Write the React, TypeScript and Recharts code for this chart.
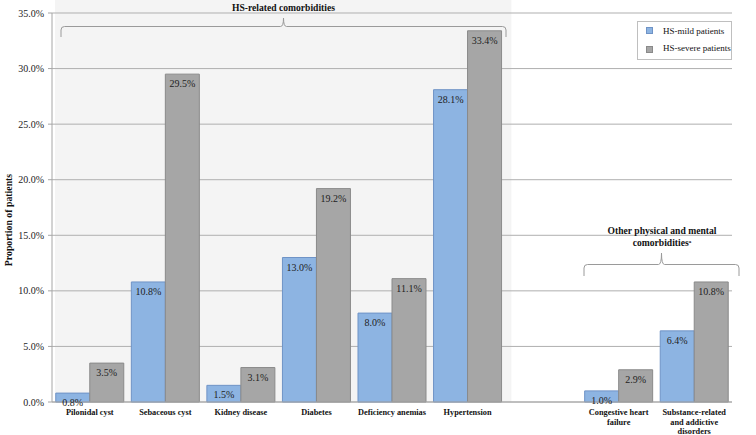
import React from 'react';
import { BarChart, Bar, XAxis, YAxis, CartesianGrid, LabelList, Legend, ReferenceArea } from 'recharts';

const categories = [
  'Pilonidal cyst',
  'Sebaceous cyst',
  'Kidney disease',
  'Diabetes',
  'Deficiency anemias',
  'Hypertension',
  ' ',
  'Congestive heart\nfailure',
  'Substance-related\nand addictive\ndisorders',
];
const mildValues: (number | null)[] = [0.8, 10.8, 1.5, 13.0, 8.0, 28.1, null, 1.0, 6.4];
const severeValues: (number | null)[] = [3.5, 29.5, 3.1, 19.2, 11.1, 33.4, null, 2.9, 10.8];
const yTicks = [0, 5, 10, 15, 20, 25, 30, 35];
const seriesNames = ['HS-mild patients', 'HS-severe patients'];
const seriesColors = ['#8DB4E2', '#A6A6A6'];
const seriesStrokes = ['#6F93C6', '#8A8A8A'];
const groupTitle1 = 'HS-related comorbidities';
const groupTitle2 = ['Other physical and mental', 'comorbidities'];
const yAxisTitle = 'Proportion of patients';

const data = categories.map((c, i) => ({ name: c, mild: mildValues[i], severe: severeValues[i] }));

const W = 756;
const H = 435;
const FONT = '"Liberation Serif", "Times New Roman", serif';

const fmt = (v: any) => (v == null ? '' : `${Number(v).toFixed(1)}%`);

const XTick = (props: any) => {
  const { x, y, payload } = props;
  const lines = String(payload.value).split('\n');
  return (
    <text x={x} y={y} textAnchor="middle" fontFamily={FONT} fontSize={8.3} fontWeight="bold" fill="#111">
      {lines.map((l, i) => (
        <tspan key={i} x={x} dy={i === 0 ? 5 : 9.6}>
          {l}
        </tspan>
      ))}
    </text>
  );
};

const BgShape = (props: any) => {
  const { x, y, width, height } = props;
  return <rect x={x + 3} y={y - 13} width={width + 3} height={height + 13} fill="#F4F4F4" />;
};

const LegendBox = () => (
  <div
    style={{
      position: 'relative',
      width: 95,
      height: 39,
      boxSizing: 'border-box',
      border: '1px solid #BFBFBF',
      background: '#fff',
      fontFamily: FONT,
      fontSize: 9,
      color: '#111',
    }}
  >
    {seriesNames.map((n, i) => (
      <React.Fragment key={n}>
        <div
          style={{
            position: 'absolute',
            left: 8,
            top: 5 + i * 19,
            width: 7,
            height: 7,
            background: seriesColors[i],
            border: `1px solid ${seriesStrokes[i]}`,
            boxSizing: 'border-box',
          }}
        />
        <div style={{ position: 'absolute', left: 25, top: 4 + i * 17, whiteSpace: 'nowrap', lineHeight: '11px' }}>{n}</div>
      </React.Fragment>
    ))}
  </div>
);

const brace = (x1: number, x2: number, yl: number, yb: number, yp: number) => {
  const xc = (x1 + x2) / 2;
  return `M${x1},${yb} L${x1},${yl + 3.5} Q${x1},${yl} ${x1 + 3.5},${yl} L${xc - 3},${yl} Q${xc},${yl} ${xc},${yp} Q${xc},${yl} ${xc + 3},${yl} L${x2 - 3.5},${yl} Q${x2},${yl} ${x2},${yl + 3.5} L${x2},${yb}`;
};

export default function App() {
  return (
    <div style={{ position: 'absolute', left: 0, top: 0, width: W, height: H, background: '#fff' }}>
      <BarChart
        width={W}
        height={H}
        data={data}
        margin={{ top: 13, right: 24, bottom: 0, left: 0 }}
        barCategoryGap="5%"
        barGap={0}
      >
        <ReferenceArea
          x1={categories[0]}
          x2={categories[5]}
          y1={0}
          y2={35}
          ifOverflow="visible"
          shape={<BgShape />}
          zIndex={-200}
        />
        <CartesianGrid vertical={false} stroke="#AFAFAF" />
        <XAxis
          dataKey="name"
          height={33}
          interval={0}
          tickLine={false}
          axisLine={{ stroke: '#A6A6A6' }}
          tick={<XTick />}
        />
        <YAxis
          width={52}
          domain={[0, 35]}
          ticks={yTicks}
          tickFormatter={fmt}
          tickSize={4}
          tickMargin={4}
          axisLine={{ stroke: '#A6A6A6' }}
          tickLine={{ stroke: '#A6A6A6' }}
          tick={{ fontFamily: FONT, fontSize: 10, fill: '#222' }}
        />
        <Legend
          layout="horizontal"
          verticalAlign="middle"
          align="center"
          content={<LegendBox />}
          wrapperStyle={{ position: 'absolute', top: 21, left: 637, width: 95, height: 39 }}
        />
        <Bar dataKey="mild" name={seriesNames[0]} fill={seriesColors[0]} stroke={seriesStrokes[0]} strokeWidth={1} isAnimationActive={false}>
          <LabelList dataKey="mild" position="insideTop" offset={6} formatter={fmt} style={{ fontFamily: FONT, fontSize: 10, fill: '#222' }} />
        </Bar>
        <Bar dataKey="severe" name={seriesNames[1]} fill={seriesColors[1]} stroke={seriesStrokes[1]} strokeWidth={1} isAnimationActive={false}>
          <LabelList dataKey="severe" position="insideTop" offset={6} formatter={fmt} style={{ fontFamily: FONT, fontSize: 10, fill: '#222' }} />
        </Bar>
      </BarChart>
      <svg
        width={W}
        height={H}
        style={{ position: 'absolute', left: 0, top: 0, pointerEvents: 'none' }}
        fontFamily={FONT}
      >
        <text x={12} y={220} transform="rotate(-90 12 220)" textAnchor="middle" fontSize={9.8} fontWeight="bold" fill="#111">
          {yAxisTitle}
        </text>
        <text x={283.5} y={11} textAnchor="middle" fontSize={9.6} fontWeight="bold" fill="#111">
          {groupTitle1}
        </text>
        <path d={brace(61, 506, 26.5, 37, 18)} fill="none" stroke="#9A9A9A" strokeWidth={1} />
        <text x={662} y={234} textAnchor="middle" fontSize={9.6} fontWeight="bold" fill="#111">
          {groupTitle2[0]}
        </text>
        <text x={662} y={246} textAnchor="middle" fontSize={9.6} fontWeight="bold" fill="#111">
          {groupTitle2[1]}
          <tspan fontSize={5} dy={-3}>a</tspan>
        </text>
        <path d={brace(584, 739, 264.5, 276, 253)} fill="none" stroke="#9A9A9A" strokeWidth={1} />
      </svg>
    </div>
  );
}
